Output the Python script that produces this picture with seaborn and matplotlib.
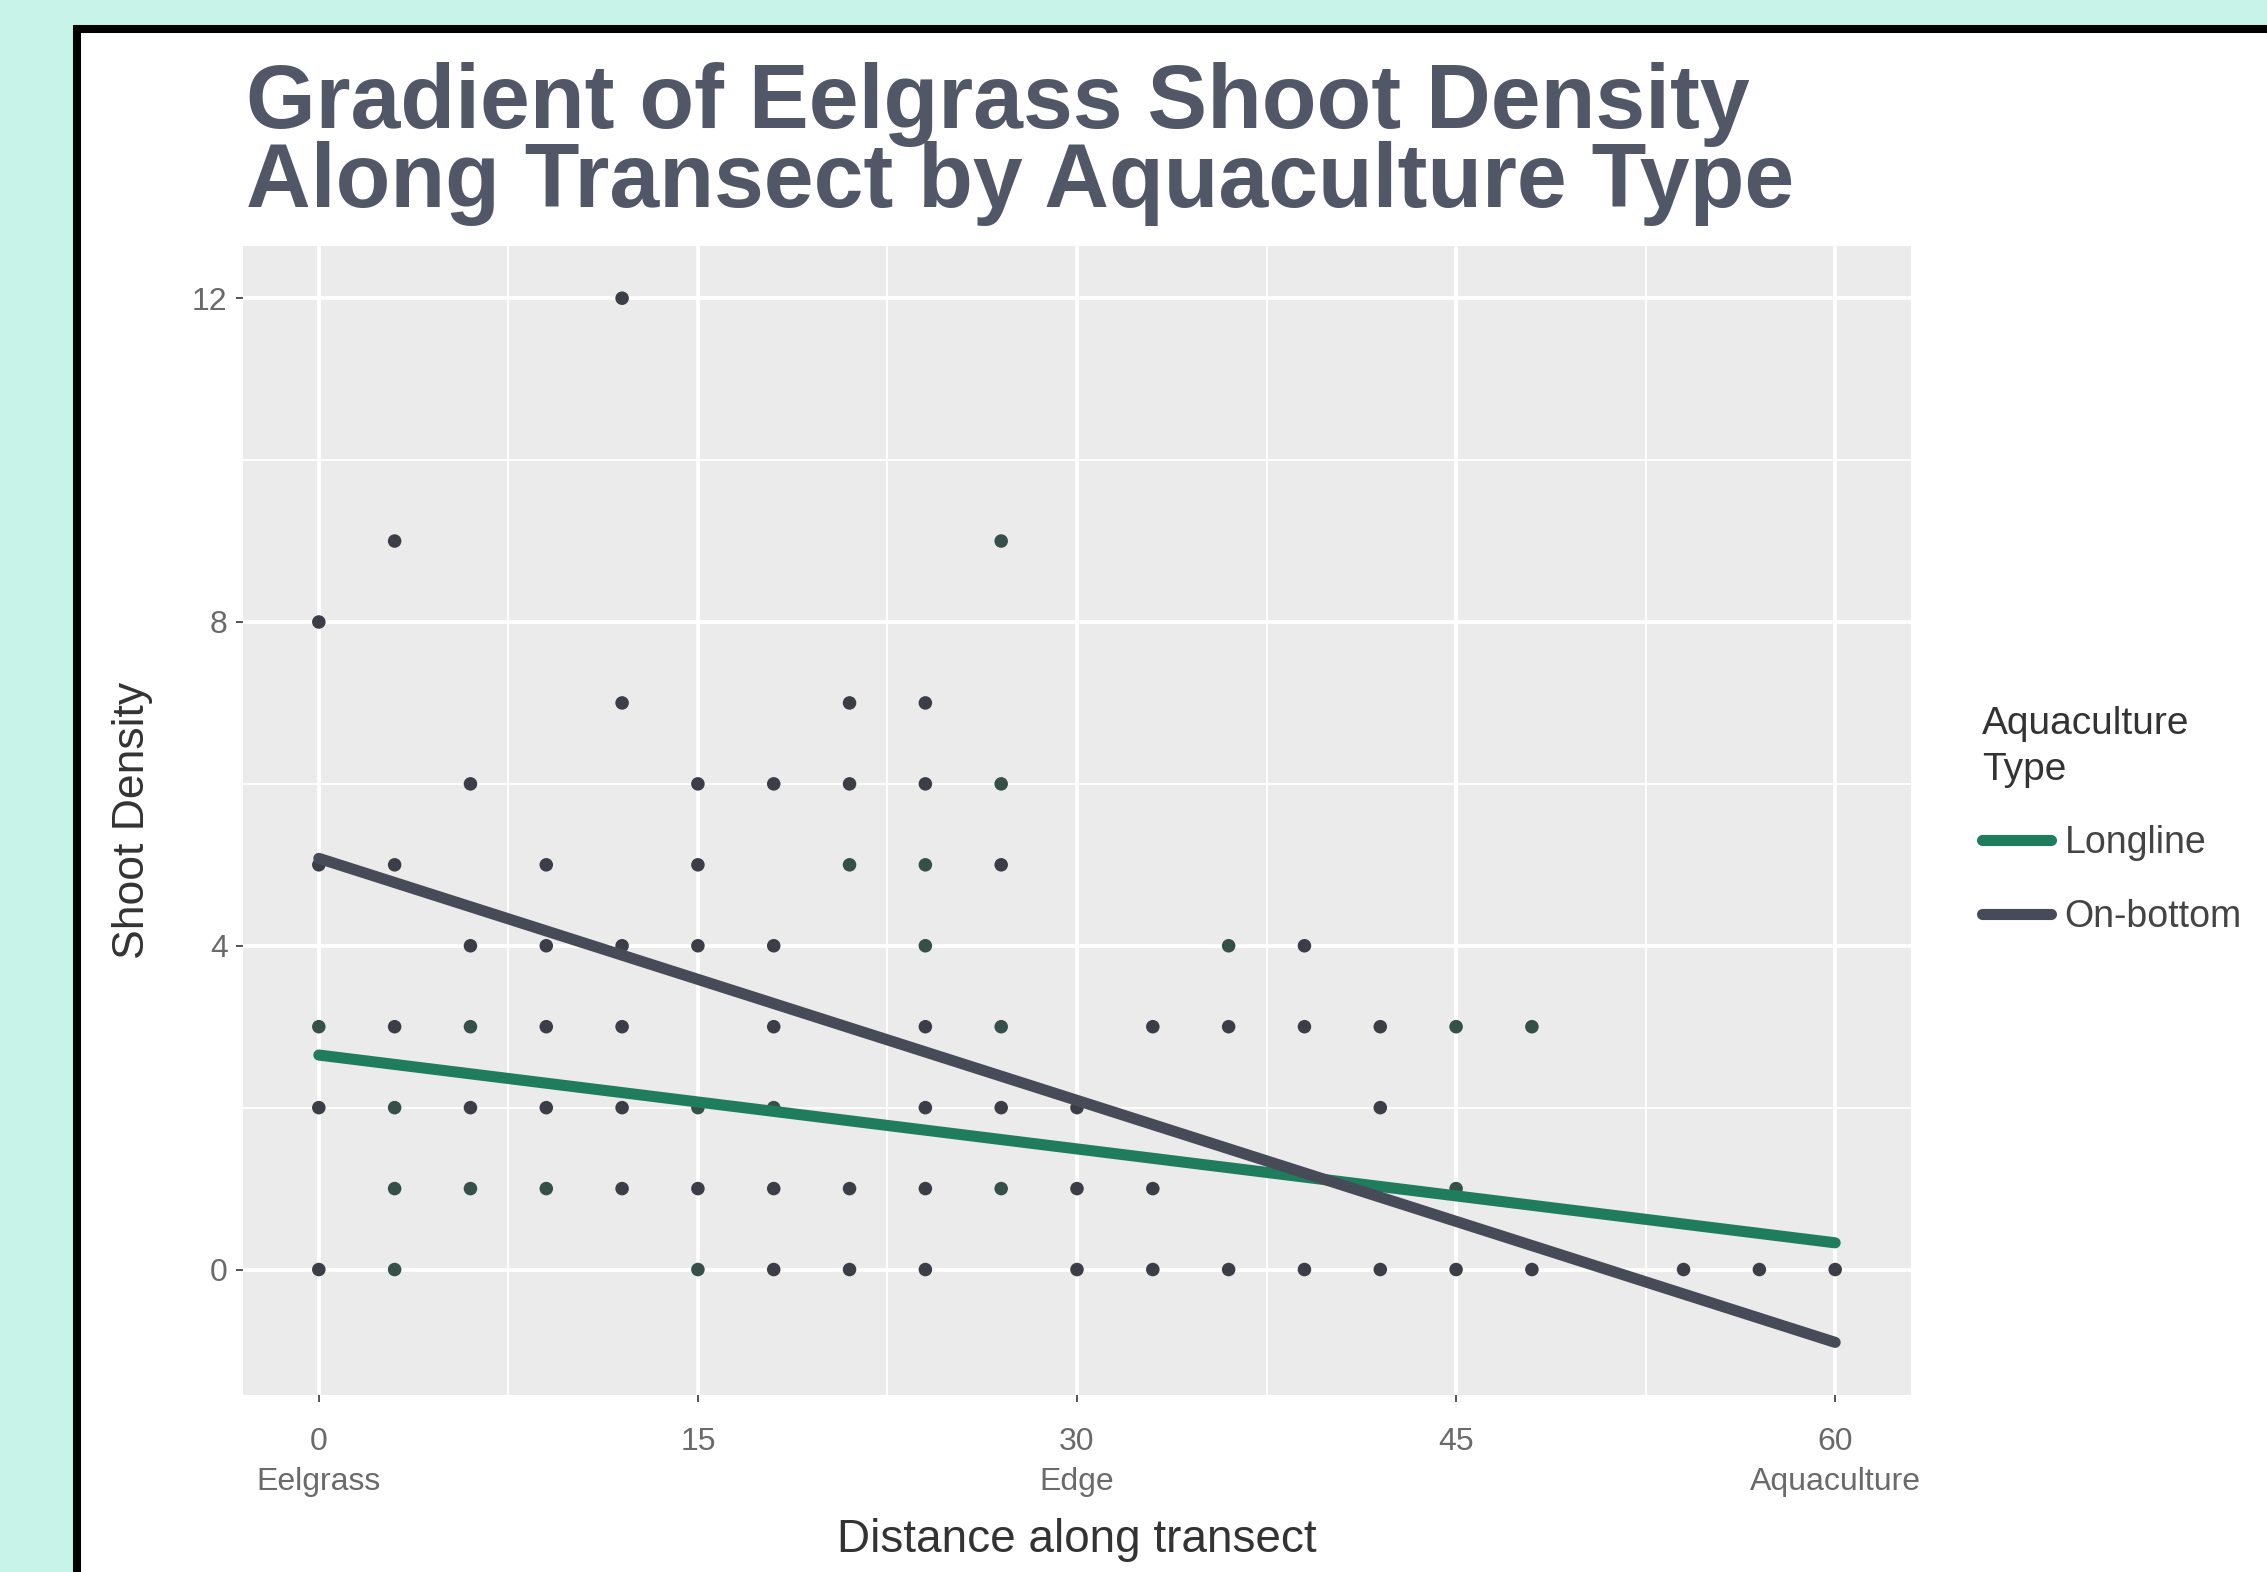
import matplotlib
matplotlib.use("Agg")
import matplotlib.pyplot as plt
from matplotlib.patches import Rectangle
import seaborn as sns
import pandas as pd

# shoot counts along the transect, split by aquaculture type
longline_x = [0, 3, 3, 3, 6, 6, 9, 15, 15, 18, 21, 24, 24, 27, 27, 27, 27, 36, 45, 45, 48]
longline_y = [3, 2, 1, 0, 3, 1, 1, 2, 0, 2, 5, 5, 4, 9, 6, 3, 1, 4, 3, 1, 3]
onbottom_x = [0, 0, 0, 0, 3, 3, 3, 6, 6, 6, 9, 9, 9, 9,
              12, 12, 12, 12, 12, 12, 15, 15, 15, 15, 18, 18, 18, 18, 18,
              21, 21, 21, 21, 24, 24, 24, 24, 24, 24, 27, 27,
              30, 30, 30, 33, 33, 33, 36, 36, 39, 39, 39, 42, 42, 42,
              45, 48, 54, 57, 60]
onbottom_y = [8, 5, 2, 0, 9, 5, 3, 6, 4, 2, 5, 4, 3, 2,
              12, 7, 4, 3, 2, 1, 6, 5, 4, 1, 6, 4, 3, 1, 0,
              7, 6, 1, 0, 7, 6, 3, 2, 1, 0, 5, 2,
              2, 1, 0, 3, 1, 0, 3, 0, 4, 3, 0, 3, 2, 0,
              0, 0, 0, 0, 0]

# fitted linear trends, read at the two ends of the transect
fit_x = [0, 60]
longline_fit = [2.65, 0.33]
onbottom_fit = [5.08, -0.90]

x_ticks = [0, 15, 30, 45, 60]
x_tick_labels = ["0\nEelgrass", "15", "30\nEdge", "45", "60\nAquaculture"]
y_ticks = [0, 4, 8, 12]

title_lines = ["Gradient of Eelgrass Shoot Density", "Along Transect by Aquaculture Type"]

line_colors = {"Longline": "#1f7d5e", "On-bottom": "#474b58"}
point_colors = {"Longline": "#354f49", "On-bottom": "#3b3e47"}

pts = pd.DataFrame({
    "dist": longline_x + onbottom_x,
    "density": longline_y + onbottom_y,
    "type": ["Longline"] * len(longline_x) + ["On-bottom"] * len(onbottom_x),
})
fits = pd.DataFrame({
    "dist": fit_x + fit_x,
    "density": longline_fit + onbottom_fit,
    "type": ["Longline"] * 2 + ["On-bottom"] * 2,
})

sns.set_theme(style="darkgrid", rc={
    "axes.facecolor": "#ebebeb",
    "grid.color": "white",
})
plt.rcParams["font.family"] = ["Liberation Sans", "DejaVu Sans"]

W, H = 2267, 1572
fig = plt.figure(figsize=(W / 100, H / 100), dpi=100, facecolor="#c8f3e8")

# white card with the black frame on top and left (kept behind the axes)
fig.patches.append(Rectangle((77 / W, -0.1), 1.2, 1.1 - 29.5 / H, transform=fig.transFigure,
                             facecolor="white", edgecolor="black", linewidth=5.8, zorder=-5))

ax = fig.add_axes([243 / W, 1 - 1395 / H, (1911 - 243) / W, (1395 - 246) / H])
ax.set_zorder(2)

sns.scatterplot(data=pts, x="dist", y="density", hue="type", palette=point_colors,
                s=95, linewidth=0, legend=False, ax=ax, zorder=3)
sns.lineplot(data=fits, x="dist", y="density", hue="type", palette=line_colors,
             linewidth=8, ax=ax, zorder=4)

ax.set_xlim(-3, 63)
ax.set_ylim(-1.55, 12.645)
ax.set_xticks(x_ticks)
ax.set_xticklabels(x_tick_labels, linespacing=1.45)
ax.set_yticks(y_ticks)
ax.set_xticks([7.5, 22.5, 37.5, 52.5], minor=True)
ax.set_yticks([2, 6, 10], minor=True)
ax.grid(which="major", color="white", linewidth=2.8)
ax.grid(which="minor", color="white", linewidth=1.3)
ax.tick_params(which="major", bottom=True, left=True, length=5, width=1.4, color="#555555",
               labelsize=23, labelcolor="#6a6a6a")
ax.tick_params(axis="x", pad=18)
ax.tick_params(axis="y", pad=6)
ax.tick_params(which="minor", bottom=False, left=False)
for s in ax.spines.values():
    s.set_visible(False)

ax.set_xlabel("Distance along transect", fontsize=33, color="#333333", labelpad=15)
ax.set_ylabel("Shoot Density", fontsize=32, color="#333333", labelpad=28)

leg = ax.legend(title="Aquaculture\nType", loc="upper left",
                bbox_to_anchor=(1982 / W, 1 - 706 / H), bbox_transform=fig.transFigure,
                frameon=False, fontsize=27, title_fontsize=28, handlelength=1.85,
                handletextpad=0.35, labelspacing=1.0, borderpad=0, borderaxespad=0)
leg._legend_box.align = "left"
for t in leg.get_texts():
    t.set_color("#444444")
leg.get_title().set_color("#333333")
leg.get_title().set_linespacing(1.35)

# title: two left-aligned bold lines
fig.text(246 / W, 1 - 128 / H, title_lines[0], fontsize=64.5, fontweight="bold",
         color="#515766", ha="left", va="baseline")
fig.text(246 / W, 1 - 207 / H, title_lines[1], fontsize=64.5, fontweight="bold",
         color="#515766", ha="left", va="baseline")

fig.savefig("out.png", dpi=100, facecolor=fig.get_facecolor())
